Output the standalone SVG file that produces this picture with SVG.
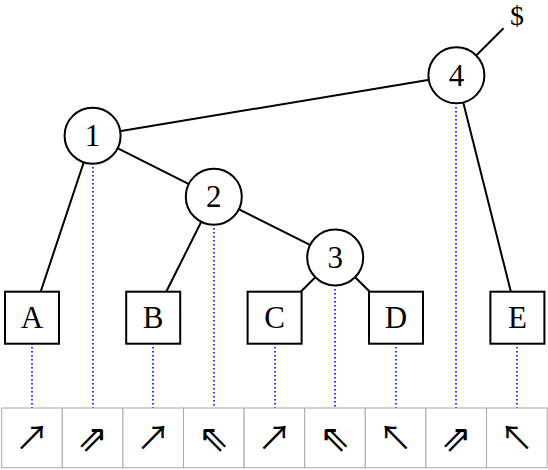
<svg xmlns="http://www.w3.org/2000/svg" width="548" height="470" viewBox="0 0 548 470">
<style>
.edge{stroke:#000;stroke-width:2;fill:none}
.proj{stroke:#0000ff;stroke-width:1.6;stroke-dasharray:1.6 2.4;fill:none}
.inner{fill:#fff;stroke:#000;stroke-width:2}
.leaf{fill:#fff;stroke:#000;stroke-width:2}
.lbl{font-family:"Liberation Serif","Times New Roman",serif;font-size:31px;text-anchor:middle;fill:#000}
.cell{fill:#fff;stroke:#a8a8a8;stroke-width:1}
.arr{font-family:"Noto Sans CJK JP","DejaVu Sans",sans-serif;font-size:34px;text-anchor:middle;fill:#000}
.arr2{font-family:"DejaVu Sans",sans-serif;font-size:37px;text-anchor:middle;fill:#000}
</style>
<rect width="548" height="470" fill="#fff"/>
<g id="projections">
<line class="proj" x1="32" y1="347" x2="32" y2="408"/>
<line class="proj" x1="93" y1="167" x2="93" y2="408"/>
<line class="proj" x1="153" y1="347" x2="153" y2="408"/>
<line class="proj" x1="214" y1="228" x2="214" y2="408"/>
<line class="proj" x1="275" y1="347" x2="275" y2="408"/>
<line class="proj" x1="335" y1="289" x2="335" y2="408"/>
<line class="proj" x1="396" y1="347" x2="396" y2="408"/>
<line class="proj" x1="456" y1="107" x2="456" y2="408"/>
<line class="proj" x1="517" y1="347" x2="517" y2="408"/>
</g>
<g id="connectors">
<line class="edge" x1="92.6" y1="135.7" x2="456.4" y2="75.3"/>
<line class="edge" x1="92.6" y1="135.7" x2="32" y2="317.7"/>
<line class="edge" x1="92.6" y1="135.7" x2="213.8" y2="196.7"/>
<line class="edge" x1="213.8" y1="196.7" x2="153.2" y2="317.7"/>
<line class="edge" x1="213.8" y1="196.7" x2="335.2" y2="257.5"/>
<line class="edge" x1="335.2" y1="257.5" x2="274.6" y2="317.7"/>
<line class="edge" x1="335.2" y1="257.5" x2="396" y2="317.7"/>
<line class="edge" x1="456.4" y1="75.3" x2="517.4" y2="317.7"/>
<line class="edge" x1="456.4" y1="75.3" x2="503.5" y2="28.3"/>
</g>
<g id="node-1"><circle class="inner" cx="92.6" cy="135.7" r="28"/><text class="lbl" x="92.6" y="146">1</text></g>
<g id="node-2"><circle class="inner" cx="213.8" cy="196.7" r="28"/><text class="lbl" x="213.8" y="207">2</text></g>
<g id="node-3"><circle class="inner" cx="335.2" cy="257.5" r="28"/><text class="lbl" x="335.2" y="267.8">3</text></g>
<g id="node-4"><circle class="inner" cx="456.4" cy="75.3" r="28"/><text class="lbl" x="456.4" y="85.6">4</text></g>
<g id="root-label"><text class="lbl" x="517" y="24.5" style="font-size:28px">$</text></g>
<g id="leaf-A"><rect class="leaf" x="5" y="291.7" width="54" height="52"/><text class="lbl" x="32" y="328">A</text></g>
<g id="leaf-B"><rect class="leaf" x="126.2" y="291.7" width="54" height="52"/><text class="lbl" x="153.2" y="328">B</text></g>
<g id="leaf-C"><rect class="leaf" x="247.6" y="291.7" width="54" height="52"/><text class="lbl" x="274.6" y="328">C</text></g>
<g id="leaf-D"><rect class="leaf" x="369" y="291.7" width="54" height="52"/><text class="lbl" x="396" y="328">D</text></g>
<g id="leaf-E"><rect class="leaf" x="490.4" y="291.7" width="54" height="52"/><text class="lbl" x="517.4" y="328">E</text></g>
<g id="sequence">
<rect class="cell" x="1.7" y="408" width="60.6" height="59.7"/>
<rect class="cell" x="62.3" y="408" width="60.6" height="59.7"/>
<rect class="cell" x="122.9" y="408" width="60.6" height="59.7"/>
<rect class="cell" x="183.5" y="408" width="60.6" height="59.7"/>
<rect class="cell" x="244.1" y="408" width="60.6" height="59.7"/>
<rect class="cell" x="304.7" y="408" width="60.6" height="59.7"/>
<rect class="cell" x="365.3" y="408" width="60.6" height="59.7"/>
<rect class="cell" x="425.9" y="408" width="60.6" height="59.7"/>
<rect class="cell" x="486.5" y="408" width="60.6" height="59.7"/>
<text class="arr" x="32" y="450">↗</text>
<text class="arr2" x="92.6" y="451">⇗</text>
<text class="arr" x="153.2" y="450">↗</text>
<text class="arr2" x="213.8" y="451">⇖</text>
<text class="arr" x="274.4" y="450">↗</text>
<text class="arr2" x="335" y="451">⇖</text>
<text class="arr" x="395.6" y="450">↖</text>
<text class="arr2" x="456.2" y="451">⇗</text>
<text class="arr" x="516.8" y="450">↖</text>
</g>
</svg>
